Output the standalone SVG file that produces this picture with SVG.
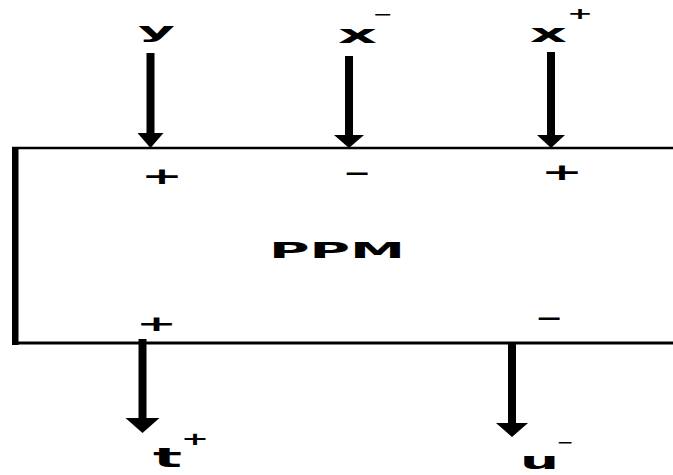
<svg xmlns="http://www.w3.org/2000/svg" width="673" height="475" viewBox="0 0 673 475">
<style>
.t{font-family:"DejaVu Sans","Liberation Sans",sans-serif;font-weight:bold;fill:#000}
.shaft{stroke:#000;stroke-width:8;fill:none}
.head{fill:#000}
.edge{stroke:#000;fill:none}
</style>
<rect width="673" height="475" fill="#fff"/>
<g id="ppm">
<rect x="12" y="147" width="6.5" height="198" fill="#000"/>
<line class="edge" x1="12" y1="148" x2="673" y2="148" stroke-width="2.5"/>
<line class="edge" x1="12" y1="343" x2="673" y2="343" stroke-width="3"/>
<text class="t" x="269" y="258" font-size="22" textLength="136" lengthAdjust="spacingAndGlyphs">PPM</text>
<text class="t" x="141" y="184" font-size="23" textLength="42" lengthAdjust="spacingAndGlyphs">+</text>
<text class="t" x="343" y="181" font-size="23" textLength="28" lengthAdjust="spacingAndGlyphs">−</text>
<text class="t" x="541" y="180" font-size="23" textLength="42" lengthAdjust="spacingAndGlyphs">+</text>
<text class="t" x="136" y="331" font-size="22" textLength="41" lengthAdjust="spacingAndGlyphs">+</text>
<text class="t" x="535" y="326" font-size="23" textLength="28" lengthAdjust="spacingAndGlyphs">−</text>
</g>
<g id="in-y">
<text class="t" x="138" y="38" font-size="22" textLength="37" lengthAdjust="spacingAndGlyphs">y</text>
</g>
<g id="in-xminus">
<text class="t" x="338" y="43" font-size="24" textLength="39" lengthAdjust="spacingAndGlyphs">x</text>
<text class="t" x="373" y="19" font-size="14" textLength="20" lengthAdjust="spacingAndGlyphs">−</text>
</g>
<g id="in-xplus">
<text class="t" x="530" y="42" font-size="25" textLength="37" lengthAdjust="spacingAndGlyphs">x</text>
<text class="t" x="567" y="19" font-size="16" textLength="26" lengthAdjust="spacingAndGlyphs">+</text>
</g>
<g id="out-tplus">
<text class="t" x="153" y="467" font-size="26" textLength="29" lengthAdjust="spacingAndGlyphs">t</text>
<text class="t" x="181" y="445" font-size="17" textLength="28" lengthAdjust="spacingAndGlyphs">+</text>
</g>
<g id="out-uminus">
<text class="t" x="520" y="469" font-size="23" textLength="39" lengthAdjust="spacingAndGlyphs">u</text>
<text class="t" x="557" y="447" font-size="13" textLength="17" lengthAdjust="spacingAndGlyphs">−</text>
</g>
<g id="connectors">
<line class="shaft" x1="150.5" y1="53" x2="150.5" y2="136"/>
<polygon class="head" points="137.5,133 163.5,133 150.5,148"/>
<line class="shaft" x1="349" y1="56" x2="349" y2="138"/>
<polygon class="head" points="334,135 364,135 349,148"/>
<line class="shaft" x1="551" y1="52" x2="551" y2="138"/>
<polygon class="head" points="537,135 565,135 551,148"/>
<line class="shaft" x1="142.5" y1="339" x2="142.5" y2="421"/>
<polygon class="head" points="125.5,418 159.5,418 142.5,433"/>
<line class="shaft" x1="512" y1="343" x2="512" y2="426"/>
<polygon class="head" points="496,423 528,423 512,437"/>
</g>
</svg>
